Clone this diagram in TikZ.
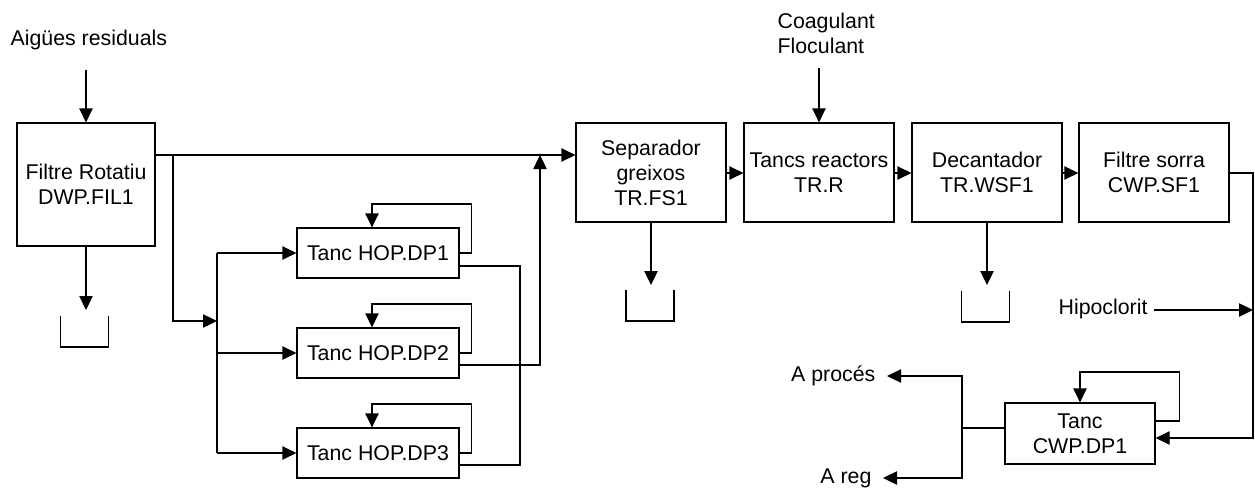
\documentclass[tikz,border=0pt]{standalone}
\usepackage{fontspec}
\setmainfont{Liberation Sans}
\usetikzlibrary{arrows.meta}

\begin{document}
\begin{tikzpicture}[x=0.75pt,y=0.75pt,yscale=-1,xscale=1,
	line width=0.9pt,
	font=\fontsize{16}{18.75}\selectfont,
	unit/.style={draw, align=center, inner sep=0pt, minimum width=112.5pt, minimum height=74.25pt},
	tank/.style={draw, align=center, inner sep=0pt, minimum width=121.5pt, minimum height=37.5pt},
	lbl/.style={inner sep=0pt, align=left},
	flow/.style={-{Triangle[length=10.5pt,width=10pt]}}
	]
	\useasboundingbox (0,0) rectangle (1255,489);
	
	%Shape: Rectangle [id:fil]
	\node[unit, minimum width=103.5pt, minimum height=92.25pt] (fil) at (86,184.5) {Filtre Rotatiu\\DWP.FIL1};
	%Shape: Rectangle [id:dp]
	\node[tank] (dp1) at (378,253) {Tanc HOP.DP1};
	\node[tank] (dp2) at (378,353) {Tanc HOP.DP2};
	\node[tank] (dp3) at (378,453) {Tanc HOP.DP3};
	%Shape: Rectangle [id:line]
	\node[unit] (sep) at (651,172.5) {Separador\\greixos\\TR.FS1};
	\node[unit] (reac) at (819,172.5) {Tancs reactors\\TR.R};
	\node[unit] (dec) at (987,172.5) {Decantador\\TR.WSF1};
	\node[unit] (sf) at (1154,172.5) {Filtre sorra\\CWP.SF1};
	\node[unit, minimum height=45.75pt] (cwp) at (1080,433.5) {Tanc\\CWP.DP1};
	
	% Text Node
	\node[lbl, anchor=west] (aig) at (10,40) {Aigües residuals};
	% Text Node
	\node[lbl, anchor=west] (coag) at (777,33.5) {Coagulant\\Floculant};
	% Text Node
	\node[lbl, anchor=base west] (hipo) at (1058,314) {Hipoclorit};
	% Text Node
	\node[lbl, anchor=east] (proc) at (876,376) {A procés};
	% Text Node
	\node[lbl, anchor=east] (reg) at (872,478) {A reg};
	
	%Shape: Bins
	\foreach \bx/\by in {84.5/316, 650/290, 985.5/291}
		\draw (\bx-24,\by) -- (\bx-24,\by+31) -- (\bx+24,\by+31) -- (\bx+24,\by);
	
	% levels of the rails
	\coordinate (mainy) at (0,155);
	\coordinate (liney) at (0,173);
	\coordinate (br) at (173,155);
	\coordinate (split) at (217,321);
	\coordinate (o1) at (520,266);
	\coordinate (o3) at (520,465);
	\coordinate (o2) at (540,365);
	\coordinate (aigin) at (86,70);
	\coordinate (coagin) at (819,68);
	\coordinate (bin1) at (86,310);
	\coordinate (bin2) at (651,285);
	\coordinate (bin3) at (987,285);
	\coordinate (rail) at (1253,173);
	\coordinate (cwpin) at (0,438);
	\coordinate (hipoy) at (0,310);
	\coordinate (cwpfb) at (0,421);
	\coordinate (split2) at (962,428);
	
	%Straight Lines
	\draw[flow] (aigin) -- (fil.north);
	\draw[flow] (fil.south) -- (bin1);
	\draw[flow] (fil.east |- mainy) -- (sep.west |- mainy);
	\draw[flow] (br) |- (split);
	\draw (dp1.west -| split) -- (dp3.west -| split);
	\foreach \t in {dp1,dp2,dp3}{
		\draw[flow] (\t.west -| split) -- (\t.west);
		\draw[flow] (\t.east) -- ++(12,0) -- ++(0,-49) -| ([xshift=-4.5pt]\t.north);
	}
	\draw (dp1.east |- o1) -- (o1) -- (o3) -- (dp3.east |- o3);
	\draw[flow] (dp2.east |- o2) -| (o2 |- mainy);
	
	%Straight Lines
	\draw[flow] (coagin) -- (reac.north);
	\draw[flow] (sep.south) -- (bin2);
	\draw[flow] (dec.south) -- (bin3);
	\draw[flow] (sep.east |- liney) -- (reac.west |- liney);
	\draw[flow] (reac.east |- liney) -- (dec.west |- liney);
	\draw[flow] (dec.east |- liney) -- (sf.west |- liney);
	\draw[flow] (sf.east |- rail) -- (rail) |- (cwp.east |- cwpin);
	\draw[flow] (hipo.east |- hipoy) ++(6,0) -- (rail |- hipoy);
	
	%Straight Lines
	\draw[flow] (cwp.east |- cwpfb) -- ++(24,0) -- ++(0,-49) -| (cwp.north);
	\draw (cwp.west |- split2) -- (split2);
	\draw[flow, shorten >=8.25pt] (split2) |- (proc.east);
	\draw[flow, shorten >=8.25pt] (split2) |- (reg.east);
	
\end{tikzpicture}
\end{document}
